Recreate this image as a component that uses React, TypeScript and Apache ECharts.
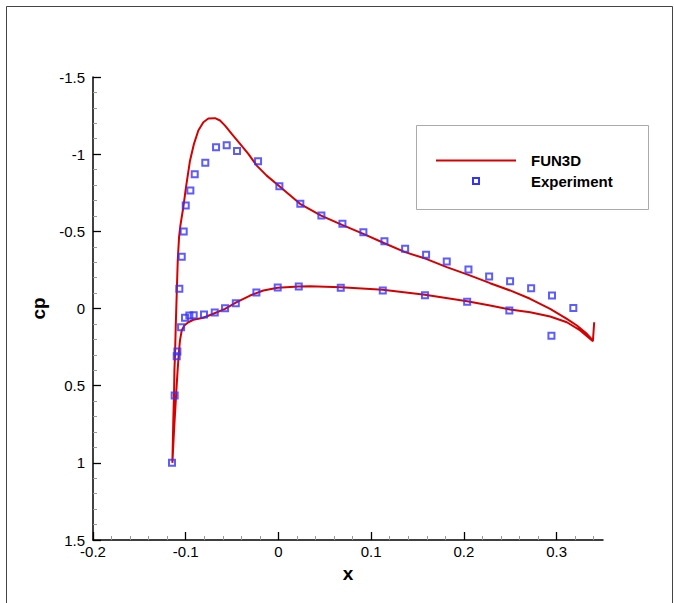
import React, { useEffect, useRef } from "react";
import * as echarts from "echarts";

// Tick labels
const xTickValues = [-0.2, -0.1, 0, 0.1, 0.2, 0.3];
const yTickValues = [-1.5, -1, -0.5, 0, 0.5, 1, 1.5];

// FUN3D surface pressure, upper surface from stagnation point to trailing edge [x, cp]
const fun3dUpper: [number, number][] = [
  [-0.1144, 1.0], [-0.1134, 0.725], [-0.1126, 0.553], [-0.1122, 0.4], [-0.1115, 0.293],
  [-0.1108, 0.121], [-0.1097, -0.095], [-0.1086, -0.311], [-0.1072, -0.462], [-0.1057, -0.54],
  [-0.1026, -0.656], [-0.0997, -0.786], [-0.0954, -0.958], [-0.0911, -1.067], [-0.0864, -1.153],
  [-0.081, -1.207], [-0.0756, -1.231], [-0.0684, -1.233], [-0.063, -1.218], [-0.0576, -1.185],
  [-0.0504, -1.131], [-0.0414, -1.067], [-0.0325, -1.002], [-0.0234, -0.926], [-0.0127, -0.861],
  [0.001, -0.792], [0.0233, -0.678], [0.046, -0.602], [0.0686, -0.542], [0.0916, -0.484],
  [0.1143, -0.423], [0.1366, -0.365], [0.1592, -0.322], [0.1815, -0.268], [0.2049, -0.218],
  [0.2283, -0.164], [0.2498, -0.117], [0.2714, -0.063], [0.293, 0.002], [0.311, 0.067],
  [0.3218, 0.11], [0.3326, 0.164], [0.3391, 0.207],
];

// FUN3D lower surface from stagnation point to trailing edge, then trailing-edge base [x, cp]
const fun3dLower: [number, number][] = [
  [-0.1144, 1.0], [-0.1126, 0.79], [-0.1104, 0.563], [-0.109, 0.423], [-0.1075, 0.293],
  [-0.1062, 0.207], [-0.1043, 0.142], [-0.1015, 0.11], [-0.0972, 0.089], [-0.0918, 0.073],
  [-0.081, 0.06], [-0.0702, 0.034], [-0.0576, 0.002], [-0.045, -0.041], [-0.0306, -0.084],
  [-0.0163, -0.117], [-0.0008, -0.134], [0.0219, -0.142], [0.034, -0.144], [0.0672, -0.138],
  [0.1125, -0.121], [0.158, -0.089], [0.2035, -0.047], [0.2283, -0.019], [0.2498, 0.006],
  [0.2714, 0.024], [0.293, 0.052], [0.311, 0.089], [0.3254, 0.142], [0.3391, 0.212],
  [0.3405, 0.089],
];

// Experiment, upper surface [x, cp]
const expUpper: [number, number][] = [
  [-0.1148, 1.0], [-0.1119, 0.563], [-0.109, 0.279], [-0.1097, 0.309], [-0.1069, -0.128],
  [-0.1043, -0.335], [-0.1022, -0.499], [-0.1, -0.667], [-0.095, -0.764], [-0.0903, -0.87],
  [-0.0789, -0.944], [-0.0673, -1.045], [-0.0558, -1.058], [-0.0447, -1.021], [-0.022, -0.954],
  [0.001, -0.792], [0.0236, -0.678], [0.0463, -0.602], [0.069, -0.549], [0.0916, -0.494],
  [0.1143, -0.436], [0.1366, -0.387], [0.1592, -0.348], [0.1815, -0.304], [0.2049, -0.253],
  [0.2272, -0.207], [0.2498, -0.177], [0.2725, -0.131], [0.295, -0.084], [0.318, -0.004],
];

// Experiment, lower surface [x, cp]
const expLower: [number, number][] = [
  [-0.105, 0.121], [-0.1008, 0.06], [-0.0961, 0.045], [-0.0914, 0.043], [-0.0803, 0.039],
  [-0.0687, 0.026], [-0.0576, -0.002], [-0.046, -0.034], [-0.0238, -0.104], [-0.0008, -0.136],
  [0.0219, -0.143], [0.0672, -0.134], [0.1125, -0.117], [0.158, -0.086], [0.2035, -0.043],
  [0.249, 0.013], [0.2944, 0.177],
];

const RED = "#d60000";
const BLUE = "#3333ff";
const FONT = "Liberation Sans";

export default function App() {
  const ref = useRef<HTMLDivElement>(null);
  useEffect(() => {
    const chart = echarts.init(ref.current!, null, { renderer: "svg" });
    const fun3dPath = [...fun3dUpper.slice().reverse(), ...fun3dLower.slice(1)];
    chart.setOption({
      animation: false,
      backgroundColor: "#ffffff",
      grid: { left: 93, right: 71, top: 77, bottom: 63, containLabel: false },
      xAxis: {
        type: "value",
        min: -0.2,
        max: 0.35,
        interval: 0.1,
        name: "x",
        nameLocation: "middle",
        nameGap: 24,
        nameTextStyle: { fontFamily: FONT, fontWeight: "bold", fontSize: 19, color: "#000" },
        axisLine: { onZero: false, lineStyle: { color: "#000", width: 1.5 } },
        axisTick: { inside: true, length: 8, customValues: xTickValues, lineStyle: { color: "#000", width: 1.3 } },
        minorTick: { show: true, splitNumber: 5, length: 4, lineStyle: { color: "#999", width: 1 } },
        axisLabel: {
          customValues: xTickValues,
          margin: 4,
          fontFamily: FONT,
          fontSize: 15,
          color: "#000",
          formatter: (v: number) => String(Math.round(v * 10) / 10),
        },
        splitLine: { show: false },
      },
      yAxis: {
        type: "value",
        inverse: true,
        min: -1.5,
        max: 1.5,
        interval: 0.5,
        name: "cp",
        nameLocation: "middle",
        nameGap: 35,
        nameRotate: 90,
        nameTextStyle: { fontFamily: FONT, fontWeight: "bold", fontSize: 19, color: "#000" },
        axisLine: { onZero: false, lineStyle: { color: "#000", width: 1.5 } },
        axisTick: { inside: true, length: 8, lineStyle: { color: "#000", width: 1.3 } },
        minorTick: { show: true, splitNumber: 5, length: 4, lineStyle: { color: "#999", width: 1 } },
        axisLabel: {
          margin: 8,
          fontFamily: FONT,
          fontSize: 15,
          color: "#000",
          customValues: yTickValues,
          formatter: (v: number) => String(v),
        },
        splitLine: { show: false },
      },
      series: [
        {
          name: "FUN3D",
          type: "line",
          data: fun3dPath,
          symbol: "none",
          showSymbol: false,
          lineStyle: { color: RED, width: 2 },
          z: 2,
        },
        {
          name: "Experiment",
          type: "scatter",
          data: [...expUpper, ...expLower],
          symbol: "rect",
          symbolSize: 6,
          itemStyle: { color: "rgba(0,0,0,0)", borderColor: BLUE, borderWidth: 2 },
          z: 3,
        },
      ],
      graphic: [
        {
          type: "rect",
          shape: { x: 6.5, y: 6.5, width: 666, height: 620 },
          style: { fill: "none", stroke: "#444", lineWidth: 1 },
          silent: true,
        },
        {
          type: "rect",
          shape: { x: 416.5, y: 125.5, width: 232, height: 84 },
          style: { fill: "#fff", stroke: "#aaa", lineWidth: 1 },
          z: 10,
        },
        {
          type: "line",
          shape: { x1: 436, y1: 160.5, x2: 516, y2: 160.5 },
          style: { stroke: RED, lineWidth: 2 },
          z: 11,
        },
        {
          type: "rect",
          shape: { x: 473, y: 178, width: 6, height: 6 },
          style: { fill: "none", stroke: BLUE, lineWidth: 2 },
          z: 11,
        },
        {
          type: "text",
          x: 531,
          y: 160,
          style: { text: "FUN3D", fontFamily: FONT, fontWeight: "bold", fontSize: 15, fill: "#000", verticalAlign: "middle" },
          z: 11,
        },
        {
          type: "text",
          x: 531,
          y: 181,
          style: { text: "Experiment", fontFamily: FONT, fontWeight: "bold", fontSize: 15, fill: "#000", verticalAlign: "middle" },
          z: 11,
        },
      ],
    });
    return () => chart.dispose();
  }, []);
  return (
    <div
      ref={ref}
      style={{ position: "fixed", left: 0, top: 0, width: 674, height: 603, background: "#fff" }}
    />
  );
}
